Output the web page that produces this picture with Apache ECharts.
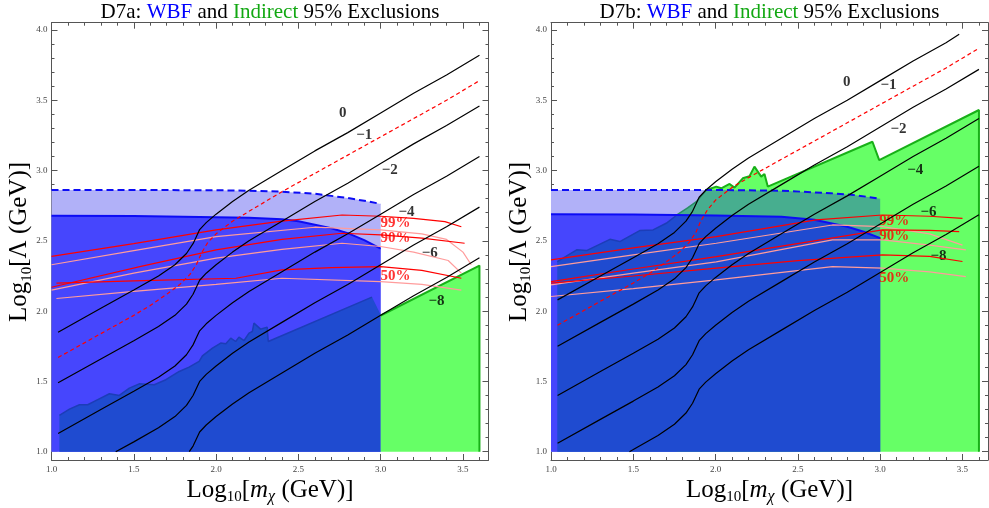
<!DOCTYPE html>
<html><head><meta charset="utf-8">
<script src="https://cdn.jsdelivr.net/npm/echarts@6/dist/echarts.min.js"></script>
<style>html,body{margin:0;padding:0;background:#fff}#c{width:989px;height:508px}</style>
</head><body><div id="c"></div>
<script>
// ---------- tick values ----------
const xMajorTicks = [1.0,1.5,2.0,2.5,3.0,3.5];
const xMinorTicks = [1.1,1.2,1.3,1.4,1.6,1.7,1.8,1.9,2.1,2.2,2.3,2.4,2.6,2.7,2.8,2.9,3.1,3.2,3.3,3.4,3.6];
const yMajorTicks = [1.0,1.5,2.0,2.5,3.0,3.5,4.0];
const yMinorTicks = [1.1,1.2,1.3,1.4,1.6,1.7,1.8,1.9,2.1,2.2,2.3,2.4,2.6,2.7,2.8,2.9,3.1,3.2,3.3,3.4,3.6,3.7,3.8,3.9];
const titles = ['D7a', 'D7b'];

// ---------- panel A (D7a) ----------
const dashedA = [[1.0,2.862],[1.5,2.862],[2.0,2.86],[2.2,2.857],[2.4,2.85],[2.6,2.835],[2.7,2.82],[2.8,2.805],[2.9,2.785],[3.0,2.763]];
const solidA = [[1.0,2.678],[1.5,2.676],[2.0,2.668],[2.2,2.665],[2.4,2.654],[2.5,2.64],[2.6,2.615],[2.7,2.59],[2.8,2.555],[2.9,2.505],[3.0,2.445]];
const jaggedA = [[1.048,1.258],[1.109,1.303],[1.170,1.334],[1.22,1.334],[1.281,1.370],[1.352,1.412],[1.412,1.400],[1.473,1.452],[1.533,1.483],[1.624,1.476],[1.695,1.512],[1.776,1.571],[1.836,1.602],[1.897,1.642],[1.917,1.682],[1.978,1.737],[2.028,1.773],[2.059,1.768],[2.089,1.808],[2.119,1.784],[2.139,1.815],[2.170,1.791],[2.2,1.844],[2.22,1.855],[2.23,1.915],[2.27,1.872],[2.31,1.886],[2.317,1.784],[2.947,2.10],[3.0,1.975]];
const greenEdgeA = [[3.0,1.969],[3.6,2.324],[3.6,1.0]];

const c0A = [[1.04,1.85],[1.3,2.02],[1.5,2.15],[1.65,2.25],[1.75,2.33],[1.82,2.41],[1.86,2.48],[1.88,2.53],[1.90,2.58],[1.94,2.63],[2.0,2.69],[2.1,2.78],[2.2,2.86],[2.4,3.00],[2.6,3.14],[2.8,3.27],[3.0,3.41],[3.2,3.55],[3.4,3.68],[3.6,3.82]];
const cm1A = [[1.04,1.67],[1.3,1.84],[1.5,1.97],[1.6,2.04],[1.7,2.12],[1.78,2.19],[1.84,2.26],[1.88,2.33],[1.91,2.41],[1.95,2.49],[2.0,2.55],[2.1,2.64],[2.2,2.71],[2.4,2.85],[2.6,2.98],[2.8,3.11],[3.0,3.24],[3.2,3.37],[3.4,3.50],[3.6,3.64]];
const cm2A = [[1.04,1.49],[1.3,1.66],[1.5,1.79],[1.65,1.89],[1.75,1.97],[1.82,2.05],[1.86,2.12],[1.88,2.17],[1.90,2.22],[1.94,2.27],[2.0,2.33],[2.1,2.42],[2.2,2.50],[2.4,2.64],[2.6,2.78],[2.8,2.91],[3.0,3.05],[3.2,3.19],[3.4,3.32],[3.6,3.46]];
const cm4A = [[1.04,1.13],[1.3,1.30],[1.5,1.43],[1.65,1.53],[1.75,1.61],[1.82,1.69],[1.86,1.76],[1.88,1.81],[1.90,1.86],[1.94,1.91],[2.0,1.97],[2.1,2.06],[2.2,2.14],[2.4,2.28],[2.6,2.42],[2.8,2.55],[3.0,2.69],[3.2,2.83],[3.4,2.96],[3.6,3.10]];
const cm6A = [[1.39,1.0],[1.5,1.07],[1.65,1.17],[1.75,1.25],[1.82,1.33],[1.86,1.40],[1.88,1.45],[1.90,1.50],[1.94,1.55],[2.0,1.61],[2.1,1.70],[2.2,1.78],[2.4,1.92],[2.6,2.06],[2.8,2.19],[3.0,2.33],[3.2,2.47],[3.4,2.60],[3.6,2.74]];
const cm8A = [[1.837,1.0],[1.86,1.04],[1.88,1.09],[1.90,1.14],[1.94,1.19],[2.0,1.25],[2.1,1.34],[2.2,1.42],[2.4,1.56],[2.6,1.70],[2.8,1.83],[3.0,1.97],[3.2,2.11],[3.4,2.24],[3.6,2.38]];

const red99A = [[1.0,2.39],[1.5,2.48],[2.0,2.578],[2.4,2.64],[2.765,2.684],[3.0,2.675],[3.2,2.66],[3.39,2.637],[3.49,2.60]];
const pink99A = [[1.0,2.33],[1.5,2.43],[2.0,2.53],[2.6,2.597],[3.0,2.578],[3.25,2.55],[3.4,2.51],[3.5,2.42],[3.55,2.33]];
const red90A = [[1.0,2.17],[1.55,2.32],[2.0,2.436],[2.4,2.51],[2.765,2.554],[3.0,2.542],[3.25,2.52],[3.51,2.483]];
const pink90A = [[1.0,2.15],[1.5,2.27],[2.0,2.377],[2.4,2.44],[2.765,2.483],[3.0,2.46],[3.2,2.42],[3.41,2.36],[3.49,2.27]];
const red50A = [[1.03,2.20],[1.5,2.215],[2.12,2.234],[2.4,2.294],[2.7,2.31],[3.0,2.317],[3.25,2.29],[3.49,2.234]];
const pink50A = [[1.03,2.09],[1.5,2.14],[2.0,2.19],[2.4,2.234],[3.0,2.21],[3.25,2.19],[3.49,2.15]];

const contourLabelsA = [['0',2.77,3.41],['−1',2.90,3.255],['−2',3.055,3.0],['−4',3.157,2.702],['−6',3.298,2.413],['−8',3.339,2.069]];
const pctLabelsA = [['99%',3.09,2.627],['90%',3.09,2.52],['50%',3.09,2.252]];

// ---------- panel B (D7b) ----------
const dashedB = [[1.0,2.862],[1.5,2.862],[2.0,2.862],[2.4,2.857],[2.7,2.839],[2.85,2.825],[3.0,2.80]];
const solidB = [[1.0,2.69],[1.5,2.688],[2.0,2.68],[2.4,2.672],[2.6,2.65],[2.7,2.625],[2.8,2.60],[2.9,2.565],[3.0,2.519]];
const greenEdgeBinBlue = [[1.038,2.353],[1.156,2.436],[1.216,2.431],[1.358,2.511],[1.418,2.495],[1.539,2.573],[1.62,2.578],[1.70,2.625],[1.765,2.684]];
const greenEdgeBinLight = [[1.765,2.684],[1.83,2.735],[1.883,2.779],[1.944,2.862]];
const greenEdgeBout = [[1.944,2.862],[2.004,2.886],[2.034,2.874],[2.085,2.905],[2.115,2.879],[2.165,2.945],[2.206,2.96],[2.236,3.028],[2.277,2.957],[2.297,2.976],[2.317,2.886],[2.953,3.205],[2.994,3.075],[3.6,3.431],[3.6,1.0]];

const c0B = [[1.04,2.08],[1.3,2.25],[1.5,2.38],[1.65,2.48],[1.75,2.56],[1.82,2.64],[1.86,2.71],[1.88,2.76],[1.90,2.81],[1.94,2.86],[2.0,2.92],[2.1,3.01],[2.2,3.09],[2.4,3.23],[2.6,3.37],[2.8,3.50],[3.0,3.64],[3.2,3.78],[3.4,3.91],[3.48,3.97]];
const cm1B = [[1.04,1.90],[1.3,2.07],[1.5,2.20],[1.6,2.27],[1.7,2.35],[1.78,2.42],[1.84,2.49],[1.88,2.56],[1.91,2.64],[1.95,2.72],[2.0,2.79],[2.1,2.88],[2.2,2.95],[2.4,3.08],[2.6,3.21],[2.8,3.34],[3.0,3.47],[3.2,3.60],[3.4,3.73],[3.6,3.87]];
const cm2B = [[1.04,1.75],[1.3,1.92],[1.5,2.05],[1.65,2.15],[1.75,2.23],[1.82,2.31],[1.86,2.38],[1.88,2.43],[1.90,2.48],[1.94,2.53],[2.0,2.59],[2.1,2.68],[2.2,2.76],[2.4,2.90],[2.6,3.04],[2.8,3.17],[3.0,3.31],[3.2,3.45],[3.4,3.58],[3.6,3.72]];
const cm4B = [[1.04,1.40],[1.3,1.57],[1.5,1.70],[1.65,1.80],[1.75,1.88],[1.82,1.96],[1.86,2.03],[1.88,2.08],[1.90,2.13],[1.94,2.18],[2.0,2.24],[2.1,2.33],[2.2,2.41],[2.4,2.55],[2.6,2.69],[2.8,2.82],[3.0,2.96],[3.2,3.10],[3.4,3.23],[3.6,3.37]];
const cm6B = [[1.04,1.06],[1.3,1.23],[1.5,1.36],[1.65,1.46],[1.75,1.54],[1.82,1.62],[1.86,1.69],[1.88,1.74],[1.90,1.79],[1.94,1.84],[2.0,1.90],[2.1,1.99],[2.2,2.07],[2.4,2.21],[2.6,2.35],[2.8,2.48],[3.0,2.62],[3.2,2.76],[3.4,2.89],[3.6,3.03]];
const cm8B = [[1.477,1.0],[1.5,1.015],[1.65,1.115],[1.75,1.195],[1.82,1.275],[1.86,1.345],[1.88,1.395],[1.90,1.445],[1.94,1.495],[2.0,1.555],[2.1,1.645],[2.2,1.725],[2.4,1.865],[2.6,2.005],[2.8,2.135],[3.0,2.275],[3.2,2.415],[3.4,2.545],[3.6,2.685]];

const red99B = [[1.0,2.365],[1.5,2.45],[2.004,2.53],[2.61,2.649],[3.014,2.684],[3.3,2.675],[3.5,2.66]];
const pink99B = [[1.0,2.317],[1.5,2.40],[2.004,2.483],[2.71,2.613],[3.014,2.601],[3.3,2.55],[3.5,2.47]];
const red90B = [[1.0,2.21],[1.5,2.30],[2.004,2.388],[2.6,2.50],[3.014,2.578],[3.3,2.575],[3.48,2.566]];
const pink90B = [[1.0,2.187],[1.5,2.27],[2.004,2.35],[2.71,2.507],[3.014,2.507],[3.3,2.47],[3.52,2.436]];
const red50B = [[1.0,2.199],[1.5,2.25],[2.004,2.306],[2.5,2.36],[3.014,2.40],[3.3,2.39],[3.5,2.353]];
const pink50B = [[1.0,2.104],[1.5,2.16],[2.004,2.222],[2.71,2.317],[3.014,2.306],[3.3,2.28],[3.52,2.246]];

const contourLabelsB = [['0',2.797,3.627],['−1',3.05,3.61],['−2',3.111,3.295],['−4',3.213,3.0],['−6',3.294,2.705],['−8',3.354,2.389]];
const pctLabelsB = [['99%',3.085,2.643],['90%',3.085,2.536],['50%',3.085,2.235]];

// ---------- styling ----------
const F = 'Liberation Serif, DejaVu Serif, serif';
const C = {
  light:'#b1b1f8', med:'#4646fd', dark:'#1f4bd0', darkEdge:'#1c3db8',
  green:'#66ff66', greenEdge:'#18b018', teal:'#47ae8f', tealEdge:'#2a8d66',
  blueLine:'#0c0cf5', red:'#ff0000', pink:'#ff9c9c', black:'#000'
};
const grids = [
  {left:51.5, top:22.7, width:437, height:437.3},
  {left:551, top:22.7, width:437, height:437.3}
];
const XMIN = 1.0, XMAX = 3.655, YMIN = 0.941, YMAX = 4.052;

const xAxes = [], yAxes = [];
grids.forEach((g, gi) => {
  const axLine = {show:true, lineStyle:{color:'#555', width:1}};
  const tickStyle = {color:'#555', width:1};
  const mk = (pos, major, isX) => ({
    gridIndex:gi, type:'value', min: isX?XMIN:YMIN, max: isX?XMAX:YMAX, position:pos,
    axisLine: major ? axLine : {show:false},
    axisTick:{show:true, inside:true, length: major?6:3, lineStyle:tickStyle,
      customValues: isX ? (major?xMajorTicks:xMinorTicks) : (major?yMajorTicks:yMinorTicks)},
    axisLabel: (major && (pos==='bottom' || pos==='left')) ? {show:true, customValues: isX?xMajorTicks:yMajorTicks,
      formatter:(v)=>Number(v).toFixed(1), fontFamily:F, fontSize:9, color:'#444', margin: isX?5:4} : {show:false},
    splitLine:{show:false}, minorTick:{show:false}
  });
  xAxes.push(mk('bottom',true,true), mk('bottom',false,true), mk('top',true,true), mk('top',false,true));
  yAxes.push(mk('left',true,false), mk('left',false,false), mk('right',true,false), mk('right',false,false));
});

const series = [];
function poly(gi, pts, fill) {
  series.push({type:'custom', xAxisIndex:gi*4, yAxisIndex:gi*4, silent:true, animation:false,
    data:[[pts[0][0], pts[0][1]]],
    renderItem:(p, api) => ({type:'polygon', shape:{points: pts.map(q => api.coord(q))},
      style:{fill:fill, stroke:null, lineWidth:0}})});
}
function line(gi, pts, color, width, type) {
  series.push({type:'line', xAxisIndex:gi*4, yAxisIndex:gi*4, data:pts, showSymbol:false, symbol:'none',
    silent:true, animation:false, smooth:false,
    lineStyle:{color:color, width:width, type:type||'solid'}});
}
function labels(gi, arr, color, size) {
  series.push({type:'scatter', xAxisIndex:gi*4, yAxisIndex:gi*4, silent:true, animation:false,
    symbolSize:0.1, itemStyle:{color:'rgba(0,0,0,0)'},
    data: arr.map(l => ({value:[l[1], l[2]], label:{formatter:l[0]}})),
    label:{show:true, position:'inside', fontFamily:F, fontWeight:'bold', fontSize:size, color:color}});
}

// Panel A regions
poly(0, [[1.0,1.0]].concat(dashedA, [[3.0,1.0]]), C.light);
poly(0, [[1.0,1.0]].concat(solidA, [[3.0,1.0]]), C.med);
poly(0, [[1.048,1.0]].concat(jaggedA, [[3.0,1.0]]), C.dark);
poly(0, [[3.0,1.0]].concat(greenEdgeA), C.green);
line(0, jaggedA.slice(0, jaggedA.length-1), C.darkEdge, 1.5);
line(0, greenEdgeA, C.greenEdge, 2);
line(0, dashedA, C.blueLine, 2, [7,4]);
line(0, solidA, C.blueLine, 2);
[[pink99A,C.pink],[pink90A,C.pink],[pink50A,C.pink],[red99A,C.red],[red90A,C.red],[red50A,C.red]].forEach(d => line(0, d[0], d[1], 1.2));
line(0, cm1A, C.red, 1.2, [4,3]);
[c0A, cm2A, cm4A, cm6A, cm8A].forEach(d => line(0, d, C.black, 1.2));
labels(0, contourLabelsA, '#000', 15);
labels(0, pctLabelsA, '#f00', 15);

// Panel B regions
const lastIn = greenEdgeBinBlue[greenEdgeBinBlue.length-1][0];
const lastLight = greenEdgeBinLight[greenEdgeBinLight.length-1][0];
poly(1, [[1.0,1.0]].concat(dashedB, [[3.0,1.0]]), C.light);
poly(1, [[1.038,1.0]].concat(greenEdgeBinBlue, greenEdgeBinLight.slice(1), greenEdgeBout.slice(1)), C.green);
poly(1, [[1.0,1.0]].concat(solidB, [[3.0,1.0]]), C.med);
poly(1, greenEdgeBinLight.concat(dashedB.filter(p => p[0] > lastLight), [[3.0,1.0],[lastIn,1.0]]), C.teal);
poly(1, [[1.038,1.0]].concat(greenEdgeBinBlue, solidB.filter(p => p[0] > lastIn), [[3.0,1.0]]), C.dark);
line(1, greenEdgeBinBlue, C.darkEdge, 1.5);
line(1, greenEdgeBinLight, C.tealEdge, 1.5);
line(1, greenEdgeBout, C.greenEdge, 2);
line(1, dashedB, C.blueLine, 2, [7,4]);
line(1, solidB, C.blueLine, 2);
[[pink99B,C.pink],[pink90B,C.pink],[pink50B,C.pink],[red99B,C.red],[red90B,C.red],[red50B,C.red]].forEach(d => line(1, d[0], d[1], 1.2));
line(1, cm1B, C.red, 1.2, [4,3]);
[c0B, cm2B, cm4B, cm6B, cm8B].forEach(d => line(1, d, C.black, 1.2));
labels(1, contourLabelsB, '#000', 15);
labels(1, pctLabelsB, '#f00', 15);

// ---------- text ----------
const titleRich = {
  t:{fontSize:21, fontFamily:F, fill:'#000', color:'#000'},
  b:{fontSize:21, fontFamily:F, fill:'#0000ff', color:'#0000ff'},
  g:{fontSize:21, fontFamily:F, fill:'#12a812', color:'#12a812'}
};
const nameRich = {
  n:{fontSize:25, fontFamily:F, fill:'#000', lineHeight:30, verticalAlign:'middle'},
  i:{fontSize:25, fontFamily:F, fontStyle:'italic', fill:'#000', lineHeight:30, verticalAlign:'middle'},
  s:{fontSize:15, fontFamily:F, fill:'#000', lineHeight:17, verticalAlign:'bottom'},
  si:{fontSize:16, fontFamily:F, fontStyle:'italic', fill:'#000', lineHeight:17, verticalAlign:'bottom'}
};
const graphic = [];
grids.forEach((g, gi) => {
  const cx = g.left + g.width/2;
  graphic.push({type:'text', x:cx, y:12, style:{text:'{t|' + titles[gi] + ': }{b|WBF}{t| and }{g|Indirect}{t| 95% Exclusions}',
    align:'center', verticalAlign:'middle', rich:titleRich}});
  graphic.push({type:'text', x:cx, y:490, style:{text:'{n|Log}{s|10}{n|[}{i|m}{si|χ}{n| (GeV)]}',
    align:'center', verticalAlign:'middle', rich:nameRich}});
  graphic.push({type:'text', x:g.left - 32, y:242, rotation:Math.PI/2, style:{text:'{n|Log}{s|10}{n|[Λ (GeV)]}',
    align:'center', verticalAlign:'middle', rich:nameRich}});
});

const chart = echarts.init(document.getElementById('c'), null, {renderer:'canvas'});
chart.setOption({animation:false, backgroundColor:'#fff', grid:grids, xAxis:xAxes, yAxis:yAxes, series:series, graphic:graphic});
</script></body></html>
